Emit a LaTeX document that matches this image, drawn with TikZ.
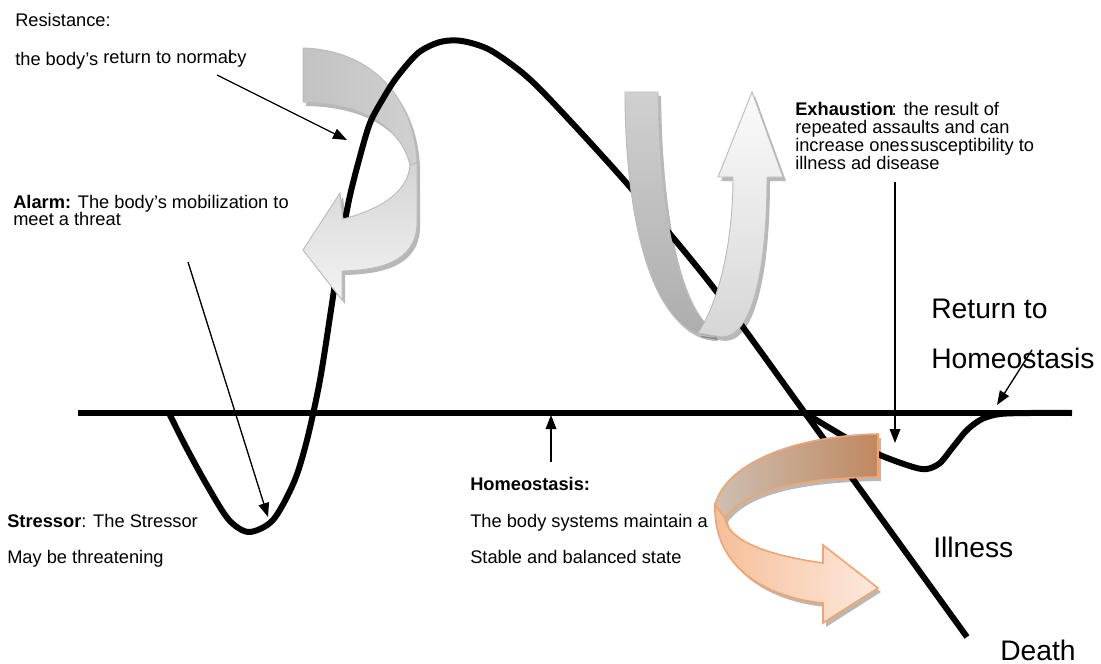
\documentclass[tikz,border=0pt]{standalone}
\usepackage{fontspec}
\setmainfont{Liberation Sans}
\usetikzlibrary{arrows.meta}
\definecolor{gout}{HTML}{BBBBBB}
\definecolor{gbackA}{HTML}{C2C2C2}
\definecolor{gbackB}{HTML}{D0D0D0}
\definecolor{gfrontA}{HTML}{D4D4D4}
\definecolor{gfrontB}{HTML}{F3F3F3}
\definecolor{uA}{HTML}{D0D0D0}
\definecolor{uB}{HTML}{ADADAD}
\definecolor{uC}{HTML}{FBFBFB}
\definecolor{uD}{HTML}{D6D6D6}
\definecolor{obA}{HTML}{CDBFB2}
\definecolor{obB}{HTML}{BF8860}
\definecolor{ofA}{HTML}{F5BE98}
\definecolor{ofB}{HTML}{FDE9DD}
\definecolor{oout}{HTML}{F2A46E}
\begin{document}
\begin{tikzpicture}[x=0.75pt,y=-0.75pt,
  curve/.style={line width=4.5pt, line join=round, line cap=butt},
  baseln/.style={line width=3.8pt},
  thinarrow/.style={line width=1pt,-{Triangle[length=10.5pt,width=8pt]}},
  sm/.style={font=\fontsize{13.7}{16}\selectfont, inner sep=0pt, anchor=base west},
  lg/.style={font=\fontsize{21.2}{25}\selectfont, inner sep=0pt, anchor=base west},
  shadowc/.style={fill=black, opacity=0.28},
  grayout/.style={draw=gout, line width=0.7pt},
  orout/.style={draw=oout, line width=1.2pt},
  gback/.style={insert path={(303,48) .. controls (370,50) and (414,95) .. (417,163) -- (410,165) .. controls (400,125) and (360,103) .. (303,102) -- cycle}},
  gfront/.style={insert path={(417,163) -- (417,225) .. controls (415,262) and (380,270) .. (342,271) -- (342,300) -- (303,250) -- (340,193) -- (343,219) .. controls (385,208) and (408,190) .. (410,165) -- cycle}},
  uleft/.style={insert path={(625,92) -- (658,92) .. controls (660,220) and (678,300) .. (712,330) -- (715,337) .. controls (652,337) and (625,220) .. (625,92) -- cycle}},
  uright/.style={insert path={(698,333) .. controls (720,300) and (733,240) .. (733,177) -- (718,177) -- (752,92) -- (783,177) -- (767,177) .. controls (767,270) and (752,337) .. (722,337) -- cycle}},
  oback/.style={insert path={(878,434) .. controls (790,436) and (725,465) .. (715,505) -- (725,518) .. controls (745,490) and (800,478) .. (878,477) -- cycle}},
  ofront/.style={insert path={(715,505) .. controls (713,570) and (770,598) .. (823,603) -- (823,623) -- (878,588) -- (823,545) -- (823,563) .. controls (765,555) and (728,540) .. (725,518) -- cycle}},
]
\useasboundingbox (0,0) rectangle (1101,664);

% baseline
\coordinate (bl) at (78,413);
\coordinate (br) at (1072,413);
\draw[baseln] (bl) -- (br);

% left gray arrow, back part (under the curve)
\fill[shadowc, shift={(3,4)}, gback];
\path[grayout, left color=gbackA, right color=gbackB, gback];

% stress response curve
\draw[curve] plot[smooth, tension=0.5] coordinates {
  (169,413) (186,447) (208,487) (229,520) (249,532) (273,520) (294,482)
  (307,440) (320,380) (331,310) (340,250) (349,200) (359,160) (370,123)
  (384,97) (397,77) (418,53) (440,42) (462,41) (490,50) (525,75) (560,110)
  (630,187) (713,287) (805,413) (967,637)};
% branch back to homeostasis
\draw[curve] plot[smooth, tension=0.5] coordinates {
  (805,413) (845,437) (880,455) (913,467) (927,469) (940,463) (953,447)
  (967,430) (982,419) (1000,414) (1030,413) (1072,413)};

% left gray arrow, front part
\fill[shadowc, shift={(3,4)}, gfront];
\path[grayout, top color=gfrontA, bottom color=gfrontB, gfront];

% U arrow
\fill[shadowc, shift={(3,4)}, uleft];
\fill[shadowc, shift={(3,4)}, uright];
\path[grayout, top color=uA, bottom color=uB, uleft];
\path[grayout, top color=uC, bottom color=uD, uright];

% orange arrow
\fill[shadowc, shift={(3,4)}, oback];
\fill[shadowc, shift={(3,4)}, ofront];
\path[orout, left color=obA, right color=obB, oback];
\path[orout, left color=ofA, right color=ofB, ofront];

% texts
\node[sm] (res) at (15,26) {Resistance:};
\node[sm] (res2) at (15,65) {the body’s};
\node[sm] (res3) at (103,63) {return to norma\rlap{l}cy};
\node[sm] (alarm) at (13,208) {\textbf{Alarm:} The body’s mobilization to};
\node[sm] (alarm2) at (13,225) {meet a threat};
\node[sm] (exh1) at (795,115) {\textbf{Exhaustion}\kern-1.5pt: the result of};
\node[sm] (exh2) at (795,133) {repeated assaults and can};
\node[sm] (exh3) at (795,151) {increase ones\kern1pt susceptibility to};
\node[sm] (exh4) at (795,169) {illness ad disease};
\node[sm] (str1) at (7,527) {\textbf{Stressor}: The Stressor};
\node[sm] (str2) at (7,563) {May be threatening};
\node[sm] (hom1) at (470,490) {\textbf{Homeostasis:}};
\node[sm] (hom2) at (470,527) {The body systems maintain a};
\node[sm] (hom3) at (470,563) {Stable and balanced state};
\node[lg] (ret1) at (931,318) {Return to};
\node[lg] (ret2) at (931,368) {Homeostasis};
\node[lg] (ill) at (933,557) {Illness};
\node[lg] (death) at (1000,660) {Death};

% thin arrows
\coordinate (resA) at (217,75);
\coordinate (resB) at (347,140);
\coordinate (alA) at (188,262);
\coordinate (alB) at (268,517);
\coordinate (hoA) at (551,462);
\coordinate (hoB) at (551,415);
\coordinate (exA) at (895,182);
\coordinate (exB) at (895,443);
\coordinate (reA) at (1032,350);
\coordinate (reB) at (997,405);
\draw[thinarrow] (resA) -- (resB);
\draw[thinarrow] (alA) -- (alB);
\draw[thinarrow] (hoA) -- (hoB);
\draw[thinarrow] (exA) -- (exB);
\draw[thinarrow] (reA) -- (reB);
\end{tikzpicture}
\end{document}
